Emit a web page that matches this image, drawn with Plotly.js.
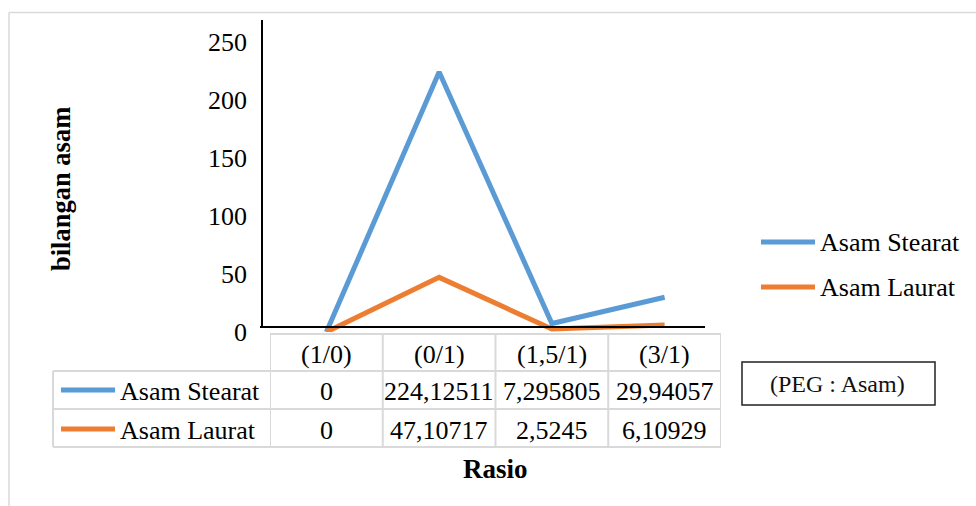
<!DOCTYPE html>
<html>
<head>
<meta charset="utf-8">
<script src="https://cdn.plot.ly/plotly-3.0.1.min.js"></script>
<style>html,body{margin:0;padding:0;background:#fff;}#chart{width:976px;height:506px;}</style>
</head>
<body>
<div id="chart"></div>
<script>
// ---- data ----
const categories = ['(1/0)', '(0/1)', '(1,5/1)', '(3/1)'];
const seriesNames = ['Asam Stearat', 'Asam Laurat'];
const stearat = [0, 224.12511, 7.295805, 29.94057];
const laurat = [0, 47.10717, 2.5245, 6.10929];
const yTicks = [0, 50, 100, 150, 200, 250];
const yTitle = 'bilangan asam';
const xTitle = 'Rasio';
const boxNote = '(PEG : Asam)';

// ---- styles / layout helpers ----
const colors = ['#5B9BD5', '#ED7D31'];
const FONT = 'Liberation Serif, Times New Roman, serif';
const FS = 26;
const W = 976, H = 506;
const L = 270, R = 721, T = 42, B = 332;   // plot area in px
const pw = R - L, ph = B - T;
const px = v => (v - L) / pw;
const py = v => (B - v) / ph;
const gridCol = '#d9d9d9';
const fmt = v => String(v).replace('.', ',');

const seriesVals = [stearat, laurat];
const traces = seriesVals.map((vals, i) => ({
  type: 'scatter', mode: 'lines', name: seriesNames[i],
  x: categories, y: vals,
  line: {color: colors[i], width: 5},
  cliponaxis: false, showlegend: false, hoverinfo: 'x+y'
}));

const shapes = [];
const annotations = [];
const line = (x0, y0, x1, y1, color, width, xref, yref) =>
  shapes.push({type: 'line', xref: xref || 'paper', yref: yref || 'paper', x0, y0, x1, y1,
               line: {color, width}, layer: 'above'});
const ann = o => annotations.push(Object.assign({showarrow: false, xanchor: 'center', yanchor: 'middle',
  xref: 'paper', yref: 'paper', font: {family: FONT, size: FS, color: '#000'}}, o));

// outer chart border (top & left)
line(px(9), py(12.5), px(976), py(12.5), gridCol, 1.5);
line(px(9), py(12.5), px(9), py(506), gridCol, 1.5);

// axes lines
line(px(262), py(20), px(262), py(327), '#000', 2);
line(px(260), py(327), px(705), py(327), '#000', 2);

// data table grid
const rowY = [334, 371, 409, 447];
line(px(L), py(rowY[0]), px(R), py(rowY[0]), gridCol, 2);
for (let r = 1; r < rowY.length; r++) line(px(53), py(rowY[r]), px(R), py(rowY[r]), gridCol, 2);
line(px(53), py(rowY[1]), px(53), py(rowY[3]), gridCol, 2);
for (let c = 0; c <= categories.length; c++) {
  shapes.push({type: 'line', xref: 'x', yref: 'paper', x0: c - 0.5, x1: c - 0.5,
               y0: py(rowY[0]), y1: py(rowY[3]), line: {color: gridCol, width: 2}, layer: 'above'});
}
// header labels
categories.forEach((c, i) => ann({xref: 'x', x: i, y: py(354), text: c}));
// rows
const rowMid = [391, 430];
seriesVals.forEach((vals, s) => {
  line(px(61), py(rowMid[s] - 1), px(115), py(rowMid[s] - 1), colors[s], 5);
  ann({x: px(118), y: py(rowMid[s]), xanchor: 'left', text: seriesNames[s]});
  vals.forEach((v, i) => ann({xref: 'x', x: i, y: py(rowMid[s]), text: fmt(v)}));
});

// right-hand legend
const legY = [242, 287];
seriesNames.forEach((n, s) => {
  line(px(761), py(legY[s]), px(815), py(legY[s]), colors[s], 5);
  ann({x: px(818), y: py(legY[s]), xanchor: 'left', text: n});
});

// note box
shapes.push({type: 'rect', xref: 'paper', yref: 'paper', x0: px(742), x1: px(935), y0: py(362), y1: py(405),
  line: {color: '#222', width: 1.5}, fillcolor: 'rgba(0,0,0,0)', layer: 'above'});
ann({x: px(837), y: py(384), text: boxNote, font: {family: FONT, size: 24, color: '#111'}});

// axis titles
ann({x: px(495), y: py(469), text: '<b>' + xTitle + '</b>', font: {family: FONT, size: 27, color: '#000'}});
ann({x: px(61), y: py(189), text: '<b>' + yTitle + '</b>', textangle: -90,
     font: {family: FONT, size: 26.5, color: '#000'}});

const layout = {
  width: W, height: H,
  margin: {l: L, r: W - R, t: T, b: H - B, pad: 0},
  paper_bgcolor: '#fff', plot_bgcolor: 'rgba(0,0,0,0)',
  showlegend: false,
  xaxis: {type: 'category', range: [-0.5, categories.length - 0.5], showticklabels: false,
          showgrid: false, zeroline: false, showline: false, ticks: ''},
  yaxis: {range: [0, 250], tickvals: yTicks, ticktext: yTicks.map(String), showgrid: false,
          zeroline: false, showline: false, ticks: '', ticklabelstandoff: 22,
          tickfont: {family: FONT, size: 26, color: '#000'}},
  shapes, annotations
};

Plotly.newPlot('chart', traces, layout, {displayModeBar: false, staticPlot: true});
</script>
</body>
</html>
